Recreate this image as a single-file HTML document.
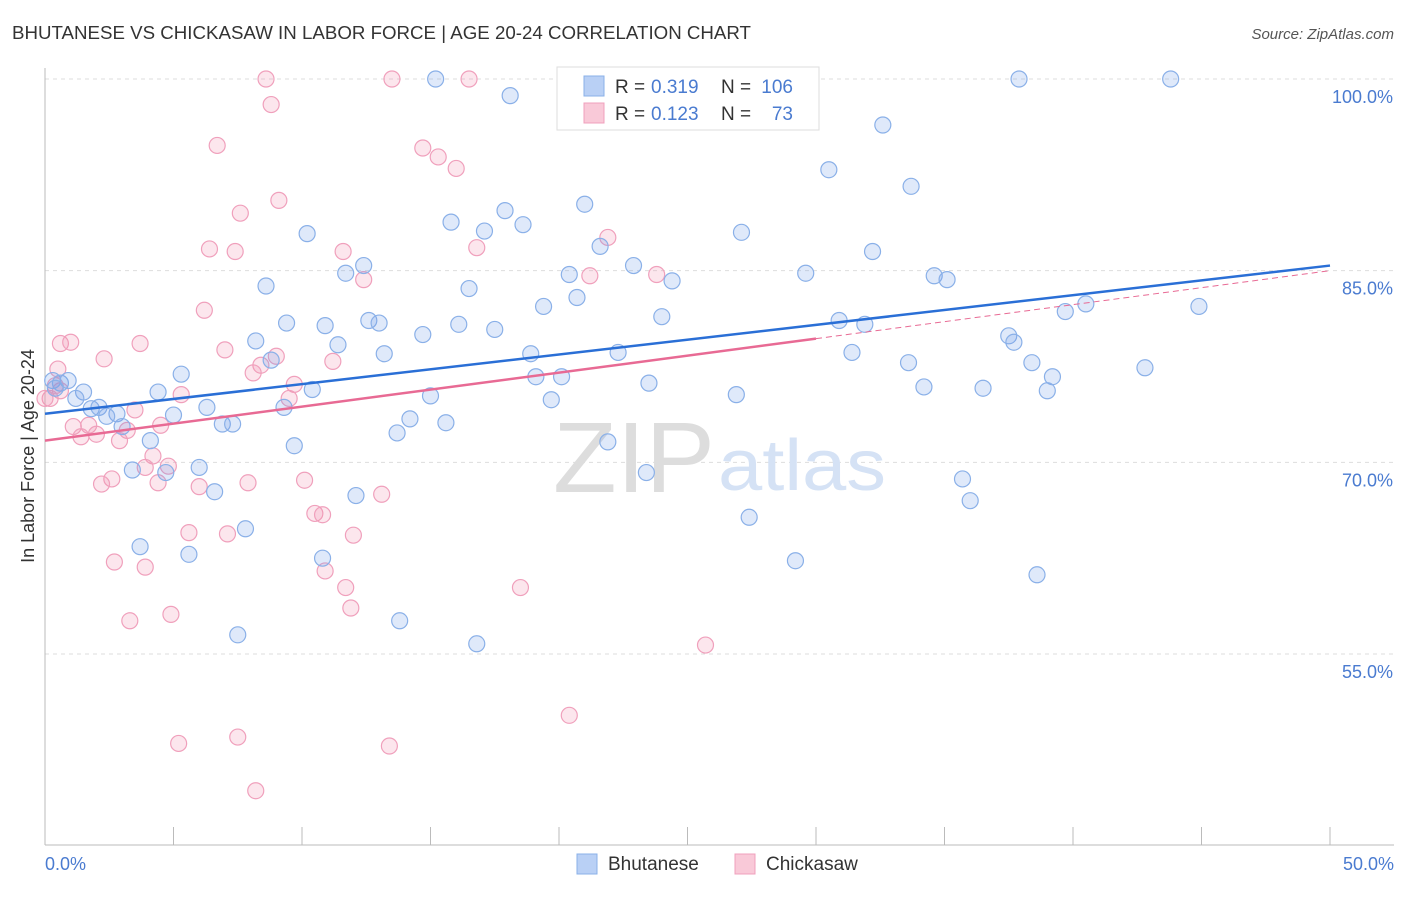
<!DOCTYPE html>
<html><head><meta charset="utf-8"><style>
body{margin:0;background:#fff;font-family:"Liberation Sans",sans-serif;}
svg text{font-family:"Liberation Sans",sans-serif;}
</style></head><body>
<svg id="chart" width="1406" height="892">
<text x="12" y="39" font-size="18" fill="#333" textLength="739" lengthAdjust="spacingAndGlyphs">BHUTANESE VS CHICKASAW IN LABOR FORCE | AGE 20-24 CORRELATION CHART</text>
<text x="1394" y="39" font-size="15" fill="#555" text-anchor="end" font-style="italic">Source: ZipAtlas.com</text>
<g id="grid"></g>
<text x="553" y="492" font-size="100" fill="#ddd" font-family="Liberation Serif" textLength="162" lengthAdjust="spacingAndGlyphs">ZIP</text>
<text x="718" y="490" font-size="72" fill="#d5e2f5" textLength="168" lengthAdjust="spacingAndGlyphs">atlas</text>
<g id="pts"></g>
<g id="trend"></g>
<text x="34" y="456" font-size="18" fill="#333" text-anchor="middle" transform="rotate(-90 34 456)">In Labor Force | Age 20-24</text>
<text x="45" y="870" font-size="18" fill="#4a7bd0">0.0%</text>
<text x="1394" y="870" font-size="18" fill="#4a7bd0" text-anchor="end">50.0%</text>
<g>
<rect x="557" y="67" width="262" height="63" fill="#fff" stroke="#ddd"/>
<rect x="584" y="76" width="20" height="20" fill="#b9d0f5" stroke="#8ab0e8"/>
<rect x="584" y="103" width="20" height="20" fill="#f9c9d8" stroke="#f0a0bc"/>
<text x="615" y="93" font-size="19" fill="#333">R =</text>
<text x="651" y="93" font-size="19" fill="#4a7bd0">0.319</text>
<text x="721" y="93" font-size="19" fill="#333">N =</text>
<text x="793" y="93" font-size="19" fill="#4a7bd0" text-anchor="end">106</text>
<text x="615" y="120" font-size="19" fill="#333">R =</text>
<text x="651" y="120" font-size="19" fill="#4a7bd0">0.123</text>
<text x="721" y="120" font-size="19" fill="#333">N =</text>
<text x="793" y="120" font-size="19" fill="#4a7bd0" text-anchor="end">73</text>
</g>
<g>
<rect x="577" y="854" width="20" height="20" fill="#b9d0f5" stroke="#8ab0e8"/>
<text x="608" y="870" font-size="19" fill="#333">Bhutanese</text>
<rect x="735" y="854" width="20" height="20" fill="#f9c9d8" stroke="#f0a0bc"/>
<text x="766" y="870" font-size="19" fill="#333">Chickasaw</text>
</g>
</svg>
<script>
const yTicks=[100,85,70,55];
const yTickLabels=["100.0%","85.0%","70.0%","55.0%"];
const xTicks=[0,5,10,15,20,25,30,35,40,45,50];
const blueX=[15.2,18.1,25.4,37.9,43.8,32.6,30.5,33.7,21.0,17.9,15.8,18.6,17.1,10.2,27.1,21.6,32.2,12.4,11.7,22.9,20.4,29.6,34.6,35.1,24.4,8.6,16.5,20.7,19.4,40.5,44.9,39.7,24.0,12.6,13.0,9.4,10.9,16.1,17.5,14.7,30.9,31.9,37.5,37.7,8.2,11.4,13.2,18.9,22.3,31.4,8.8,33.6,38.4,42.8,5.3,19.1,20.1,23.5,39.2,34.2,36.5,10.4,4.4,39.0,26.9,1.5,15.0,19.7,1.2,6.3,9.3,1.8,2.1,2.8,2.4,5.0,14.2,15.6,6.9,7.3,3.0,13.7,4.1,21.9,9.7,6.0,3.4,4.7,23.4,35.7,6.6,12.1,36.0,27.4,7.8,3.7,5.6,10.8,29.2,38.6,13.8,7.5,16.8,0.3,0.6,0.9,0.4];
const blueY=[100,98.7,100,100,100,96.4,92.9,91.6,90.2,89.7,88.8,88.6,88.1,87.9,88.0,86.9,86.5,85.4,84.8,85.4,84.7,84.8,84.6,84.3,84.2,83.8,83.6,82.9,82.2,82.4,82.2,81.8,81.4,81.1,80.9,80.9,80.7,80.8,80.4,80.0,81.1,80.8,79.9,79.4,79.5,79.2,78.5,78.5,78.6,78.6,78.0,77.8,77.8,77.4,76.9,76.7,76.7,76.2,76.7,75.9,75.8,75.7,75.5,75.6,75.3,75.5,75.2,74.9,75.0,74.3,74.3,74.2,74.3,73.8,73.6,73.7,73.4,73.1,73.0,73.0,72.8,72.3,71.7,71.6,71.3,69.6,69.4,69.2,69.2,68.7,67.7,67.4,67.0,65.7,64.8,63.4,62.8,62.5,62.3,61.2,57.6,56.5,55.8,76.4,76.2,76.4,75.8];
const pinkX=[8.6,13.5,16.5,8.8,6.7,14.7,15.3,16.0,9.1,7.6,16.8,6.4,7.4,11.6,12.4,21.2,21.9,23.8,6.2,0.6,1.0,3.7,2.3,7.0,9.0,8.4,8.1,11.2,0.5,9.7,5.3,9.5,0.6,0.2,3.5,1.1,1.7,3.2,4.5,1.4,2.0,2.9,4.2,3.9,4.8,2.6,2.2,4.4,6.0,7.9,10.1,13.1,10.5,10.8,5.6,7.1,12.0,2.7,3.9,10.9,11.7,18.5,11.9,4.9,3.3,25.7,20.4,5.2,7.5,13.4,8.2,0.4,0.0];
const pinkY=[100,100,100,98.0,94.8,94.6,93.9,93.0,90.5,89.5,86.8,86.7,86.5,86.5,84.3,84.6,87.6,84.7,81.9,79.3,79.4,79.3,78.1,78.8,78.3,77.6,77.0,77.9,77.3,76.1,75.3,75.0,75.6,75.0,74.1,72.8,72.9,72.5,72.9,72.0,72.2,71.7,70.5,69.6,69.7,68.7,68.3,68.4,68.1,68.4,68.6,67.5,66.0,65.9,64.5,64.4,64.3,62.2,61.8,61.5,60.2,60.2,58.6,58.1,57.6,55.7,50.2,48.0,48.5,47.8,44.3,76.0,75.0];
const blueTrend=[73.8,85.4];
const pinkTrend=[71.7,85.0];
const pinkSolidEnd=30;

const NS="http://www.w3.org/2000/svg";
const X0=45,X1=1330,Y100=79,Y55=654;
function sx(v){return X0+(v/50)*(X1-X0);}
function sy(v){return Y100+(100-v)/45*(Y55-Y100);}
function mk(tag,attrs,parent){const e=document.createElementNS(NS,tag);for(const k in attrs)e.setAttribute(k,attrs[k]);parent.appendChild(e);return e;}
const grid=document.getElementById('grid');
yTicks.forEach((t,i)=>{
 const l=mk('line',{x1:X0,x2:1394,y1:sy(t),y2:sy(t),stroke:'#ddd','stroke-dasharray':'4,4'},grid);
 
 
 const tx=mk('text',{x:1393,y:sy(t)+24,'font-size':18,fill:'#4a7bd0','text-anchor':'end'},grid);
 tx.textContent=yTickLabels[i];
 
 
});
const ya=mk('line',{x1:X0,x2:X0,y1:68,y2:845,stroke:'#bbb'},grid);


const xa=mk('line',{x1:X0,x2:1394,y1:845,y2:845,stroke:'#bbb'},grid);


xTicks.forEach(t=>{
 const l=mk('line',{x1:sx(t),x2:sx(t),y1:827,y2:845,stroke:'#bbb'},grid);
 
 
});
const pts=document.getElementById('pts');
pinkX.forEach((x,i)=>{
 const c=mk('circle',{cx:sx(x),cy:sy(pinkY[i]),r:8,fill:'rgba(240,140,175,0.22)',stroke:'#f0a0bc','stroke-width':1.2},pts);
 
 
});
blueX.forEach((x,i)=>{
 const c=mk('circle',{cx:sx(x),cy:sy(blueY[i]),r:8,fill:'rgba(110,155,230,0.22)',stroke:'#8ab0e8','stroke-width':1.2},pts);
 
 
});
const tr=document.getElementById('trend');
function py(x){return pinkTrend[0]+(pinkTrend[1]-pinkTrend[0])*x/50;}
const pd=mk('line',{x1:sx(pinkSolidEnd),y1:sy(py(pinkSolidEnd)),x2:sx(50),y2:sy(pinkTrend[1]),stroke:'#e86a94','stroke-width':1,'stroke-dasharray':'6,4'},tr);


const ps=mk('line',{x1:sx(0),y1:sy(pinkTrend[0]),x2:sx(pinkSolidEnd),y2:sy(py(pinkSolidEnd)),stroke:'#e86a94','stroke-width':2.5},tr);


const bl=mk('line',{x1:sx(0),y1:sy(blueTrend[0]),x2:sx(50),y2:sy(blueTrend[1]),stroke:'#2a6fd6','stroke-width':2.5},tr);


</script>
</body></html>
